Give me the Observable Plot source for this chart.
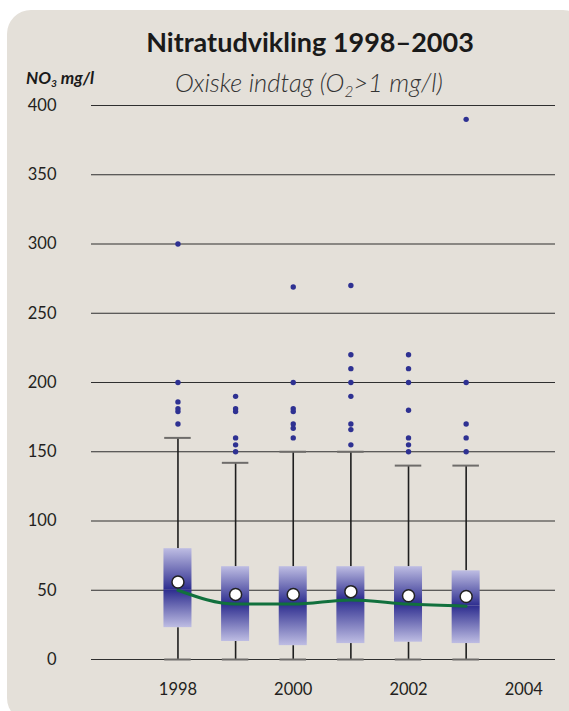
<!DOCTYPE html>
<html>
<head>
<meta charset="utf-8">
<script src="https://cdn.jsdelivr.net/npm/d3@7"></script>
<script src="https://cdn.jsdelivr.net/npm/@observablehq/plot@0.6"></script>
<style>
  html, body { margin: 0; padding: 0; width: 569px; height: 711px; overflow: hidden; background: #ffffff; }
  #panel { position: absolute; left: 7px; top: 10px; width: 580px; height: 712px; border-radius: 24px; background: #e4e0d9; }
  #chart { position: absolute; left: 0; top: 0; }
  .t { position: absolute; white-space: nowrap; font-family: Lato, "Open Sans", sans-serif; color: #1a1a1a; }
  #title { left: 310px; top: 26px; transform: translateX(-50%); font-size: 27px; font-weight: 700; line-height: 1.2; }
  #subtitle { left: 309px; top: 67px; transform: translateX(-50%); font-size: 25.5px; font-weight: 300; font-style: italic; line-height: 1.2; color: #333; }
  #ylabel { left: 26px; top: 68px; font-size: 17px; font-weight: 700; font-style: italic; line-height: 1.2; }
  sub { font-size: 0.6em; vertical-align: -0.3em; line-height: 0; }
</style>
</head>
<body>
<div id="panel"></div>
<div id="chart"></div>
<div class="t" id="title">Nitratudvikling 1998–2003</div>
<div class="t" id="subtitle">Oxiske indtag (O<sub>2</sub>&gt;1 mg/l)</div>
<div class="t" id="ylabel">NO<sub>3</sub> mg/l</div>
<script>
const years = [1998, 1999, 2000, 2001, 2002, 2003];
const q1 = [23, 13, 10, 11.5, 12.5, 11.5];
const q3 = [80, 67, 67, 67, 67, 64];
const medians = [50, 40, 40, 43, 40, 38.5];
const means = [56, 47, 47, 49, 46, 45.5];
const whiskerLow = [0, 0, 0, 0, 0, 0];
const whiskerHigh = [160, 142, 150, 150, 140, 140];
const outliers = [
  [300, 200, 186, 181, 179, 170],
  [190, 181, 179, 160, 155, 150],
  [269, 200, 181, 179, 170, 167, 160],
  [270, 220, 210, 200, 190, 170, 166, 155],
  [220, 210, 200, 180, 160, 155, 150],
  [390, 200, 170, 160, 150]
];
const yTicks = [0, 50, 100, 150, 200, 250, 300, 350, 400];
const xTicks = [1998, 2000, 2002, 2004];

const boxes = years.map((year, i) => ({
  year, q1: q1[i], q3: q3[i], median: medians[i], mean: means[i],
  lo: whiskerLow[i], hi: whiskerHigh[i]
}));
const outlierPoints = years.flatMap((year, i) => outliers[i].map(value => ({year, value})));

const halfBox = 0.243;
const halfCap = 0.23;

const chart = Plot.plot({
  width: 569,
  height: 711,
  marginTop: 105,
  marginBottom: 52,
  marginLeft: 91,
  marginRight: 14,
  x: {domain: [1996.5, 2004.55]},
  y: {domain: [0, 400]},
  style: {background: "transparent", fontFamily: "Lato, 'Open Sans', sans-serif", fontSize: "16px", color: "#231f20", overflow: "visible"},
  marks: [
    Plot.ruleY(yTicks, {stroke: "#2f2f2f", strokeWidth: 1.2}),
    Plot.axisY({ticks: yTicks, tickSize: 0, tickPadding: 35, label: null, fontSize: 16.5}),
    Plot.axisX({ticks: xTicks, tickSize: 0, tickPadding: 24, label: null, fontSize: 16.5, tickFormat: d => String(d)}),
    Plot.ruleX(boxes, {x: "year", y1: "q3", y2: "hi", stroke: "#1e1e1e", strokeWidth: 1.6}),
    Plot.ruleX(boxes, {x: "year", y1: "lo", y2: "q1", stroke: "#1e1e1e", strokeWidth: 1.6}),
    Plot.ruleY(boxes, {y: "hi", x1: d => d.year - halfCap, x2: d => d.year + halfCap, stroke: "#6e6c6a", strokeWidth: 2}),
    Plot.ruleY(boxes, {y: "lo", x1: d => d.year - halfCap, x2: d => d.year + halfCap, stroke: "#6e6c6a", strokeWidth: 2}),
    Plot.rect(boxes, {x1: d => d.year - halfBox, x2: d => d.year + halfBox, y1: "median", y2: "q3", fill: "url(#gUp)"}),
    Plot.rect(boxes, {x1: d => d.year - halfBox, x2: d => d.year + halfBox, y1: "q1", y2: "median", fill: "url(#gDown)"}),
    Plot.dot(outlierPoints, {x: "year", y: "value", r: 2.7, fill: "#2e3192", stroke: "none"}),
    Plot.line(boxes, {x: "year", y: "median", stroke: "#11703d", strokeWidth: 3, curve: "monotone-x"}),
    Plot.dot(boxes, {x: "year", y: "mean", r: 6, fill: "#ffffff", stroke: "#222222", strokeWidth: 1.5})
  ]
});

const svg = d3.select(chart);
const defs = svg.insert("defs", ":first-child");
const light = "#bebde3", dark = "#2d2d8f";
const gUp = defs.append("linearGradient").attr("id", "gUp").attr("x1", 0).attr("y1", 0).attr("x2", 0).attr("y2", 1);
gUp.append("stop").attr("offset", 0).attr("stop-color", light);
gUp.append("stop").attr("offset", 1).attr("stop-color", dark);
const gDown = defs.append("linearGradient").attr("id", "gDown").attr("x1", 0).attr("y1", 0).attr("x2", 0).attr("y2", 1);
gDown.append("stop").attr("offset", 0).attr("stop-color", dark);
gDown.append("stop").attr("offset", 1).attr("stop-color", light);

document.getElementById("chart").appendChild(chart);
</script>
</body>
</html>
